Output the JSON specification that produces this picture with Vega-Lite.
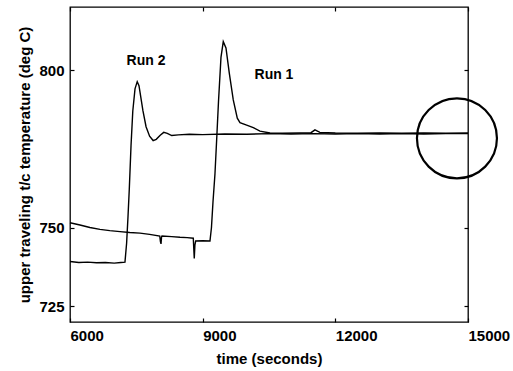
{
  "$schema": "https://vega.github.io/schema/vega-lite/v6.json",
  "width": 398,
  "height": 315,
  "autosize": {"type": "none"},
  "padding": {"left": 70, "top": 7, "right": 45, "bottom": 49},
  "background": "white",
  "config": {
    "font": "Liberation Sans",
    "view": {"stroke": "black", "strokeWidth": 1.3},
    "axis": {
      "domain": false,
      "grid": false,
      "tickColor": "black",
      "tickSize": -4,
      "tickWidth": 1.2,
      "labelColor": "black",
      "labelFont": "Liberation Sans",
      "labelFontSize": 15,
      "labelFontWeight": "bold",
      "titleColor": "black",
      "titleFont": "Liberation Sans",
      "titleFontSize": 15,
      "titleFontWeight": "bold",
      "labelFlush": false,
      "labelOverlap": false
    }
  },
  "datasets": {
    "runs": [
      {"run": "Run 2", "t": 6000, "T": 739.2},
      {"run": "Run 2", "t": 6200, "T": 738.9},
      {"run": "Run 2", "t": 6400, "T": 739.0},
      {"run": "Run 2", "t": 6600, "T": 738.8},
      {"run": "Run 2", "t": 6800, "T": 738.9},
      {"run": "Run 2", "t": 7000, "T": 738.7},
      {"run": "Run 2", "t": 7150, "T": 738.9},
      {"run": "Run 2", "t": 7243, "T": 739.0},
      {"run": "Run 2", "t": 7280, "T": 745},
      {"run": "Run 2", "t": 7310, "T": 753},
      {"run": "Run 2", "t": 7340, "T": 762},
      {"run": "Run 2", "t": 7380, "T": 776},
      {"run": "Run 2", "t": 7420, "T": 787},
      {"run": "Run 2", "t": 7470, "T": 794},
      {"run": "Run 2", "t": 7520, "T": 796.3},
      {"run": "Run 2", "t": 7560, "T": 795},
      {"run": "Run 2", "t": 7600, "T": 791.5},
      {"run": "Run 2", "t": 7650, "T": 787},
      {"run": "Run 2", "t": 7720, "T": 782},
      {"run": "Run 2", "t": 7800, "T": 779},
      {"run": "Run 2", "t": 7880, "T": 777.6},
      {"run": "Run 2", "t": 7950, "T": 778},
      {"run": "Run 2", "t": 8040, "T": 779.3},
      {"run": "Run 2", "t": 8120, "T": 780.2},
      {"run": "Run 2", "t": 8200, "T": 779.9},
      {"run": "Run 2", "t": 8300, "T": 779.2},
      {"run": "Run 2", "t": 8450, "T": 779.4},
      {"run": "Run 2", "t": 8700, "T": 779.6},
      {"run": "Run 2", "t": 9000, "T": 779.5},
      {"run": "Run 2", "t": 9500, "T": 779.7},
      {"run": "Run 2", "t": 10000, "T": 779.6},
      {"run": "Run 2", "t": 10500, "T": 779.8},
      {"run": "Run 2", "t": 11000, "T": 779.7},
      {"run": "Run 2", "t": 11500, "T": 779.8},
      {"run": "Run 2", "t": 12000, "T": 779.7},
      {"run": "Run 2", "t": 12500, "T": 779.8},
      {"run": "Run 2", "t": 13000, "T": 779.7},
      {"run": "Run 2", "t": 13500, "T": 779.8},
      {"run": "Run 2", "t": 14000, "T": 779.7},
      {"run": "Run 2", "t": 14500, "T": 779.8},
      {"run": "Run 2", "t": 15000, "T": 779.8},
      {"run": "Run 1", "t": 6000, "T": 751.5},
      {"run": "Run 1", "t": 6226, "T": 750.8},
      {"run": "Run 1", "t": 6450, "T": 750.0},
      {"run": "Run 1", "t": 6678, "T": 749.4},
      {"run": "Run 1", "t": 6900, "T": 749.0},
      {"run": "Run 1", "t": 7131, "T": 748.7},
      {"run": "Run 1", "t": 7350, "T": 748.4},
      {"run": "Run 1", "t": 7583, "T": 748.2},
      {"run": "Run 1", "t": 7800, "T": 747.8},
      {"run": "Run 1", "t": 8030, "T": 747.3},
      {"run": "Run 1", "t": 8045, "T": 745.5},
      {"run": "Run 1", "t": 8058, "T": 744.8},
      {"run": "Run 1", "t": 8070, "T": 747.0},
      {"run": "Run 1", "t": 8080, "T": 747.3},
      {"run": "Run 1", "t": 8300, "T": 747.1},
      {"run": "Run 1", "t": 8487, "T": 746.9},
      {"run": "Run 1", "t": 8650, "T": 746.8},
      {"run": "Run 1", "t": 8788, "T": 746.6},
      {"run": "Run 1", "t": 8800, "T": 743},
      {"run": "Run 1", "t": 8810, "T": 740.2},
      {"run": "Run 1", "t": 8825, "T": 744.5},
      {"run": "Run 1", "t": 8842, "T": 745.7},
      {"run": "Run 1", "t": 9000, "T": 745.8},
      {"run": "Run 1", "t": 9165, "T": 745.7},
      {"run": "Run 1", "t": 9199, "T": 750},
      {"run": "Run 1", "t": 9233, "T": 758},
      {"run": "Run 1", "t": 9278, "T": 767},
      {"run": "Run 1", "t": 9324, "T": 780},
      {"run": "Run 1", "t": 9358, "T": 790},
      {"run": "Run 1", "t": 9414, "T": 804},
      {"run": "Run 1", "t": 9466, "T": 809},
      {"run": "Run 1", "t": 9527, "T": 807},
      {"run": "Run 1", "t": 9602, "T": 799},
      {"run": "Run 1", "t": 9692, "T": 790.5},
      {"run": "Run 1", "t": 9783, "T": 784.7},
      {"run": "Run 1", "t": 9844, "T": 783.3},
      {"run": "Run 1", "t": 9995, "T": 782.5},
      {"run": "Run 1", "t": 10145, "T": 781.7},
      {"run": "Run 1", "t": 10296, "T": 780.6},
      {"run": "Run 1", "t": 10522, "T": 780.0},
      {"run": "Run 1", "t": 10800, "T": 779.9},
      {"run": "Run 1", "t": 11200, "T": 780.0},
      {"run": "Run 1", "t": 11450, "T": 780.1},
      {"run": "Run 1", "t": 11539, "T": 781.0},
      {"run": "Run 1", "t": 11650, "T": 780.2},
      {"run": "Run 1", "t": 12000, "T": 780.0},
      {"run": "Run 1", "t": 12500, "T": 779.9},
      {"run": "Run 1", "t": 13000, "T": 780.0},
      {"run": "Run 1", "t": 13500, "T": 779.9},
      {"run": "Run 1", "t": 14000, "T": 780.0},
      {"run": "Run 1", "t": 14500, "T": 779.9},
      {"run": "Run 1", "t": 15000, "T": 780.0}
    ],
    "labels": [
      {"label": "Run 2", "t": 7718, "T": 802.9},
      {"label": "Run 1", "t": 10612, "T": 798.3}
    ],
    "marker": [
      {"t": 14750, "T": 778.3}
    ]
  },
  "layer": [
    {
      "layer": [
        {
          "data": {"name": "runs"},
          "mark": {"type": "line", "color": "black", "strokeWidth": 1.4, "interpolate": "linear"},
          "encoding": {
            "x": {
              "field": "t", "type": "quantitative",
              "scale": {"domain": [6000, 15000], "nice": false, "zero": false},
              "axis": {"orient": "bottom", "values": [6000, 9000, 12000, 15000], "format": "d", "title": "time (seconds)", "labelAlign": "left", "labelDx": -2, "labelPadding": 10, "titlePadding": 8}
            },
            "y": {
              "field": "T", "type": "quantitative",
              "scale": {"domain": [720, 820], "nice": false, "zero": false},
              "axis": {"orient": "left", "values": [725, 750, 800], "format": "d", "title": "upper traveling t/c temperature (deg C)", "labelPadding": 10, "titlePadding": 6}
            },
            "detail": {"field": "run", "type": "nominal"}
          }
        },
        {
          "data": {"name": "labels"},
          "mark": {"type": "text", "color": "black", "fontSize": 14, "fontWeight": "bold", "font": "Liberation Sans", "align": "center", "baseline": "middle"},
          "encoding": {
            "x": {"field": "t", "type": "quantitative"},
            "y": {"field": "T", "type": "quantitative"},
            "text": {"field": "label", "type": "nominal"}
          }
        },
        {
          "data": {"name": "marker"},
          "mark": {"type": "point", "shape": "circle", "size": 6400, "filled": false, "stroke": "black", "strokeWidth": 2.2, "opacity": 1, "clip": false},
          "encoding": {
            "x": {"field": "t", "type": "quantitative"},
            "y": {"field": "T", "type": "quantitative"}
          }
        }
      ]
    },
    {
      "data": {"name": "marker"},
      "mark": {"type": "point", "opacity": 0},
      "encoding": {
        "x": {
          "field": "t", "type": "quantitative",
          "scale": {"domain": [6000, 15000], "nice": false, "zero": false},
          "axis": {"orient": "top", "values": [6000, 9000, 12000, 15000], "labels": false, "title": null}
        },
        "y": {
          "field": "T", "type": "quantitative",
          "scale": {"domain": [720, 820], "nice": false, "zero": false},
          "axis": {"orient": "right", "values": [725, 750, 800], "labels": false, "title": null}
        }
      }
    }
  ],
  "resolve": {
    "scale": {"x": "independent", "y": "independent"},
    "axis": {"x": "independent", "y": "independent"}
  }
}
